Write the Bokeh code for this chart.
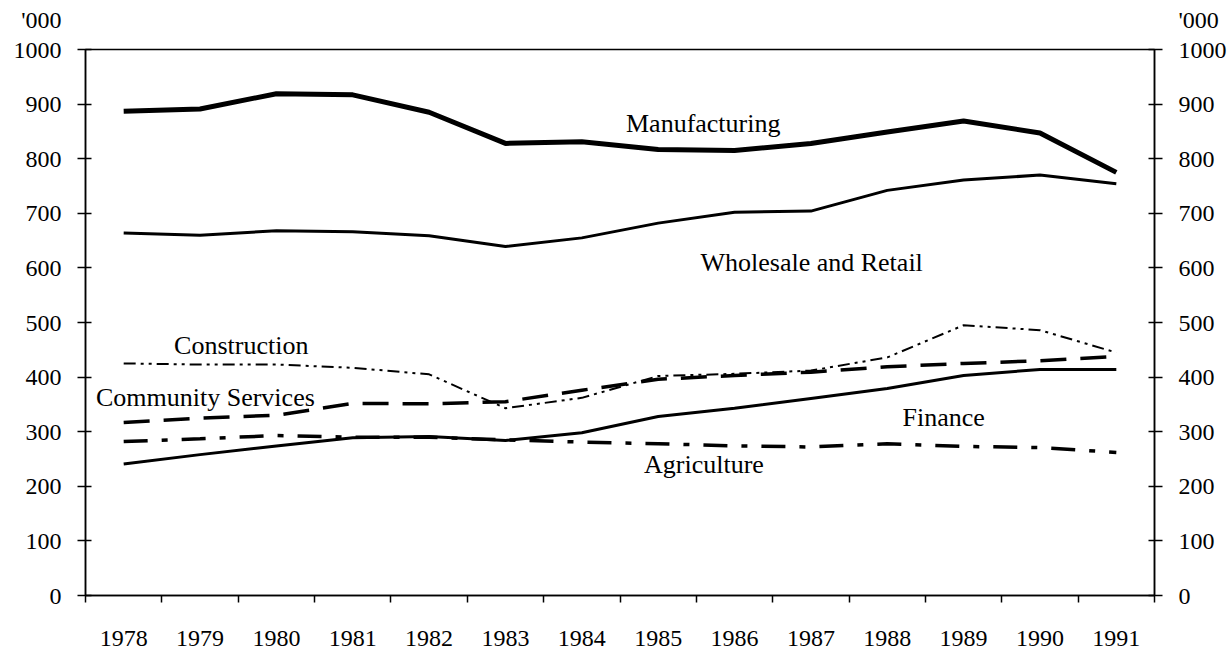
from bokeh.plotting import figure
from bokeh.models import Range1d, LinearAxis, FixedTicker, Label
from bokeh.embed import file_html
from bokeh.resources import INLINE
import numpy as np

years = ["1978", "1979", "1980", "1981", "1982", "1983", "1984",
         "1985", "1986", "1987", "1988", "1989", "1990", "1991"]
manufacturing = [887, 891, 919, 917, 885, 828, 831, 817, 815, 828, 849, 869, 847, 775]
wholesale = [664, 660, 668, 666, 659, 639, 655, 682, 702, 704, 742, 761, 770, 754]
construction = [425, 423, 423, 417, 405, 343, 362, 402, 406, 412, 436, 495, 486, 445]
community = [317, 325, 330, 352, 351, 355, 376, 396, 403, 409, 419, 425, 430, 438]
finance = [241, 258, 274, 289, 291, 284, 298, 328, 343, 361, 379, 403, 414, 414]
agriculture = [282, 287, 293, 290, 290, 285, 281, 278, 274, 272, 278, 273, 271, 262]
y_ticks = [0, 100, 200, 300, 400, 500, 600, 700, 800, 900, 1000]
unit_label = "'000"

FONT = "Liberation Serif"
FS = "24px"
LFS = "26px"

n = len(years)
xs = np.arange(n) + 0.5

p = figure(width=1229, height=652, output_backend="svg", toolbar_location=None,
           x_range=Range1d(0, n), y_range=Range1d(0, 1000),
           min_border_left=85, min_border_right=75, min_border_top=49, min_border_bottom=57)
p.background_fill_color = "white"
p.border_fill_color = "white"
p.outline_line_color = "black"
p.outline_line_width = 1.5
p.xgrid.visible = False
p.ygrid.visible = False

# x axis: labels at category centres, ticks at category boundaries
xa = p.xaxis[0]
xa.ticker = FixedTicker(ticks=list(xs), minor_ticks=list(range(n + 1)))
xa.major_label_overrides = {float(x): y for x, y in zip(xs, years)}
xa.major_tick_line_color = None
xa.major_tick_out = 0
xa.major_tick_in = 0
xa.minor_tick_out = 7
xa.minor_tick_in = 0
xa.minor_tick_line_color = "black"
xa.minor_tick_line_width = 1.5
xa.axis_line_width = 1.5
xa.major_label_standoff = 28
xa.major_label_text_font = FONT
xa.major_label_text_font_size = FS
xa.major_label_text_color = "black"

def style_y(ax):
    ax.ticker = FixedTicker(ticks=y_ticks)
    ax.major_tick_in = 6
    ax.major_tick_out = 8
    ax.major_tick_line_width = 1.5
    ax.minor_tick_line_color = None
    ax.axis_line_width = 1.5
    ax.major_label_standoff = 16
    ax.major_label_text_font = FONT
    ax.major_label_text_font_size = FS
    ax.major_label_text_color = "black"
    ax.major_label_text_line_height = 1.15
    # unit label shown above the top tick label
    top = y_ticks[-1]
    ax.major_label_overrides = {top: unit_label + "\n" + str(top) + "\n "}

style_y(p.yaxis[0])
ry = LinearAxis()
style_y(ry)
p.add_layout(ry, "right")

# series
p.line(xs, manufacturing, line_color="black", line_width=5)
p.line(xs, wholesale, line_color="black", line_width=3)
p.line(xs, construction, line_color="black", line_width=2, line_dash="12 5 3 5 3 5")
p.line(xs, community, line_color="black", line_width=3.5, line_dash="26 14")
p.line(xs, finance, line_color="black", line_width=3)
p.line(xs, agriculture, line_color="black", line_width=3.5, line_dash="24 14 6 14")

def lab(x, y, t):
    p.add_layout(Label(x=x, y=y, text=t, text_font=FONT, text_font_size=LFS,
                       text_color="black", text_align="center", text_baseline="middle"))

lab(8.09, 864, "Manufacturing")
lab(9.51, 610, "Wholesale and Retail")
lab(2.04, 458, "Construction")
lab(1.57, 363, "Community Services")
lab(11.24, 326, "Finance")
lab(8.10, 240, "Agriculture")

open("out.html", "w").write(file_html(p, INLINE))
